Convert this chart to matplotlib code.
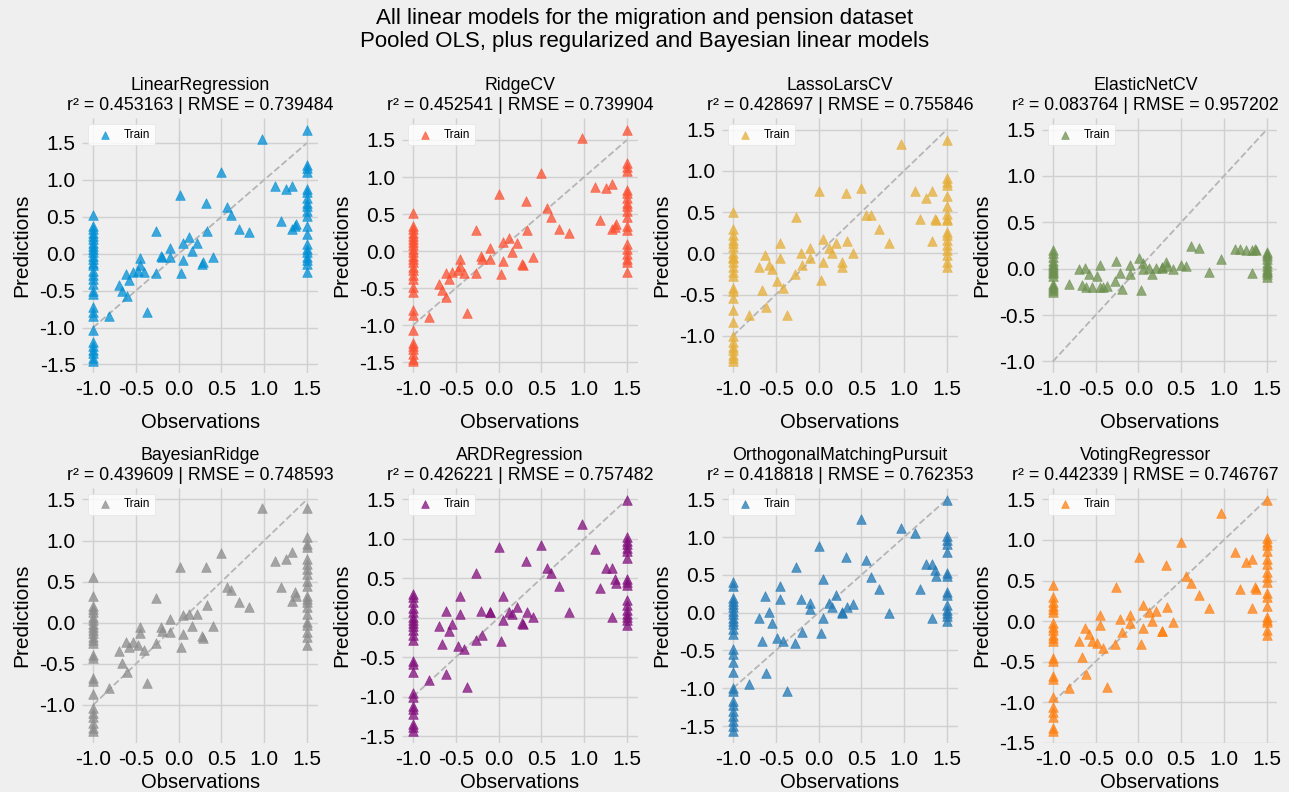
import numpy as np
import matplotlib.pyplot as plt
from matplotlib.ticker import MultipleLocator

plt.style.use('fivethirtyeight')
plt.rcParams['font.family'] = ['Liberation Sans', 'DejaVu Sans']

# shared observation values for the non-extreme rows
x_mid = [-0.81, -0.70, -0.66, -0.62, -0.61, -0.58, -0.54, -0.48, -0.45, -0.45, -0.41,
         -0.37, -0.27, -0.26, -0.21, -0.19, -0.10, -0.10, 0.01, 0.03, 0.05, 0.05,
         0.12, 0.16, 0.21, 0.27, 0.28, 0.32, 0.33, 0.40, 0.50, 0.56, 0.61, 0.71,
         0.82, 0.97, 1.13, 1.19, 1.26, 1.33, 1.33, 1.36, 1.37]
x_low = -1.0
x_high = 1.5

models = ['LinearRegression', 'RidgeCV', 'LassoLarsCV', 'ElasticNetCV',
          'BayesianRidge', 'ARDRegression', 'OrthogonalMatchingPursuit', 'VotingRegressor']
r2 = [0.453163, 0.452541, 0.428697, 0.083764, 0.439609, 0.426221, 0.418818, 0.442339]
rmse = [0.739484, 0.739904, 0.755846, 0.957202, 0.748593, 0.757482, 0.762353, 0.746767]
colors = ['#008fd5', '#fc4f30', '#e5ae38', '#6d904f', '#8b8b8b', '#810f7c', '#1f77b4', '#ff7f0e']

# predictions at the intermediate observations
pred_mid = {
    'LinearRegression': [-0.84, -0.43, -0.50, -0.28, -0.58, -0.36, -0.25, -0.23, -0.06, -0.16, -0.25,
                         -0.79, -0.26, 0.31, -0.03, -0.05, 0.08, -0.05, 0.79, -0.26, 0.15, -0.08,
                         0.22, 0.03, 0.14, -0.14, -0.11, 0.68, 0.31, -0.05, 1.11, 0.63, 0.52, 0.34,
                         0.29, 1.55, 0.91, 0.44, 0.87, 0.91, 0.33, 0.37, 0.40],
    'RidgeCV': [-0.89, -0.45, -0.52, -0.29, -0.62, -0.38, -0.28, -0.26, -0.10, -0.20, -0.30,
                -0.83, -0.30, 0.28, -0.06, -0.10, 0.04, -0.10, 0.77, -0.31, 0.12, -0.13,
                0.17, -0.01, 0.11, -0.18, -0.19, 0.68, 0.28, -0.08, 1.05, 0.58, 0.46, 0.30,
                0.24, 1.53, 0.86, 0.42, 0.85, 0.90, 0.30, 0.33, 0.37],
    'LassoLarsCV': [-0.75, -0.17, -0.44, -0.02, -0.65, -0.14, -0.19, -0.33, 0.12, -0.05, -0.42,
                    -0.75, -0.25, 0.44, 0.01, -0.14, 0.06, -0.05, 0.75, -0.32, 0.18, -0.10,
                    0.06, 0.00, 0.12, -0.16, -0.10, 0.73, 0.15, 0.01, 0.79, 0.46, 0.46, 0.30,
                    0.12, 1.32, 0.75, 0.42, 0.67, 0.75, 0.15, 0.42, 0.40],
    'ElasticNetCV': [-0.17, 0.00, -0.18, 0.01, -0.20, -0.06, -0.20, -0.08, 0.04, -0.20, -0.20,
                     -0.19, -0.13, 0.08, -0.05, -0.22, 0.04, -0.06, 0.12, -0.23, 0.06, 0.00,
                     0.01, -0.06, 0.01, 0.02, 0.01, 0.07, 0.03, 0.00, 0.04, 0.03, 0.24, 0.22,
                     -0.03, 0.11, 0.21, 0.21, 0.20, 0.20, -0.05, 0.21, 0.20],
    'BayesianRidge': [-0.79, -0.34, -0.49, -0.23, -0.60, -0.29, -0.23, -0.27, -0.05, -0.13, -0.33,
                      -0.73, -0.25, 0.30, -0.05, -0.10, 0.04, -0.11, 0.68, -0.30, 0.10, -0.14,
                      0.11, -0.04, 0.11, -0.16, -0.18, 0.68, 0.22, -0.04, 0.85, 0.44, 0.40, 0.25,
                      0.19, 1.40, 0.75, 0.44, 0.77, 0.86, 0.27, 0.37, 0.33],
    'ARDRegression': [-0.79, -0.11, -0.33, 0.08, -0.71, -0.17, -0.08, -0.36, 0.28, 0.05, -0.40,
                      -0.88, -0.28, 0.57, 0.08, -0.22, 0.07, 0.07, 0.90, -0.30, 0.27, -0.03,
                      0.07, 0.05, 0.14, -0.07, -0.08, 0.72, 0.07, 0.01, 0.92, 0.63, 0.57, 0.40,
                      0.07, 1.19, 0.87, 0.38, 0.63, 0.63, 0.01, 0.49, 0.44],
    'OrthogonalMatchingPursuit': [-0.95, -0.07, -0.38, 0.22, -0.80, 0.01, -0.13, -0.33, 0.36, 0.18, -0.37,
                                  -1.04, -0.40, 0.60, 0.18, -0.25, 0.13, 0.05, 0.89, -0.27, 0.44, -0.07,
                                  0.13, 0.08, 0.23, 0.00, 0.01, 0.74, 0.08, 0.11, 1.24, 0.70, 0.47, 0.31,
                                  0.00, 1.12, 1.05, 0.31, 0.65, 0.65, -0.07, 0.57, 0.48],
    'VotingRegressor': [-0.82, -0.25, -0.44, -0.09, -0.65, -0.16, -0.25, -0.27, 0.08, -0.05, -0.33,
                        -0.81, -0.28, 0.42, 0.02, -0.14, 0.07, -0.03, 0.79, -0.28, 0.20, -0.09,
                        0.11, 0.00, 0.13, -0.12, -0.12, 0.69, 0.17, -0.01, 0.97, 0.56, 0.47, 0.32,
                        0.16, 1.33, 0.85, 0.40, 0.73, 0.77, 0.16, 0.42, 0.40],
}

# predictions where observation == -1.0
pred_low = {
    'LinearRegression': [0.53, 0.37, 0.33, 0.28, 0.24, 0.20, 0.15, 0.11, 0.06, 0.02, -0.03, -0.07,
                         -0.12, -0.16, -0.23, -0.29, -0.34, -0.41, -0.50, -0.54, -0.72, -0.79,
                         -0.85, -1.03, -1.19, -1.25, -1.30, -1.34, -1.41, -1.46],
    'RidgeCV': [0.52, 0.34, 0.30, 0.25, 0.21, 0.16, 0.12, 0.08, 0.03, -0.01, -0.06, -0.10, -0.15,
                -0.21, -0.26, -0.32, -0.37, -0.48, -0.55, -0.79, -0.86, -1.06, -1.24, -1.28,
                -1.32, -1.39, -1.46, -1.49],
    'LassoLarsCV': [0.50, 0.30, 0.22, 0.16, 0.12, 0.08, 0.00, -0.04, -0.06, -0.10, -0.16, -0.22,
                    -0.28, -0.42, -0.46, -0.54, -0.69, -0.83, -1.00, -1.07, -1.13, -1.17, -1.23,
                    -1.27, -1.31],
    'ElasticNetCV': [0.20, 0.17, 0.13, 0.08, 0.05, 0.03, 0.01, -0.01, -0.03, -0.05, -0.08, -0.17,
                     -0.19, -0.21, -0.23, -0.25],
    'BayesianRidge': [0.56, 0.33, 0.21, 0.17, 0.13, 0.07, 0.03, -0.01, -0.05, -0.09, -0.13, -0.17,
                      -0.21, -0.25, -0.39, -0.43, -0.67, -0.71, -0.87, -1.04, -1.10, -1.14, -1.22,
                      -1.28, -1.32],
    'ARDRegression': [0.30, 0.26, 0.20, 0.12, 0.07, 0.01, -0.03, -0.07, -0.11, -0.15, -0.22, -0.28,
                      -0.55, -0.59, -0.69, -0.96, -1.00, -1.12, -1.16, -1.22, -1.35, -1.39, -1.44],
    'OrthogonalMatchingPursuit': [0.41, 0.35, 0.20, 0.15, 0.11, 0.07, 0.02, -0.02, -0.07, -0.11, -0.15,
                                  -0.22, -0.28, -0.48, -0.54, -0.65, -0.78, -1.00, -1.04, -1.17,
                                  -1.22, -1.30, -1.37, -1.43, -1.50, -1.57],
    'VotingRegressor': [0.44, 0.30, 0.23, 0.19, 0.15, 0.11, -0.03, -0.07, -0.11, -0.17, -0.21, -0.25,
                        -0.45, -0.49, -0.68, -0.72, -0.94, -1.06, -1.12, -1.18, -1.32, -1.36],
}

# predictions where observation == 1.5
pred_high = {
    'LinearRegression': [1.68, 1.20, 1.16, 1.11, 0.87, 0.84, 0.75, 0.69, 0.64, 0.58, 0.51, 0.37,
                         0.26, 0.13, 0.06, 0.02, -0.05, -0.09, -0.14, -0.25],
    'RidgeCV': [1.64, 1.19, 1.14, 1.08, 0.83, 0.79, 0.72, 0.65, 0.61, 0.54, 0.46, 0.34, 0.28,
                0.10, 0.03, -0.04, -0.10, -0.15, -0.28],
    'LassoLarsCV': [1.38, 0.91, 0.87, 0.83, 0.69, 0.58, 0.48, 0.42, 0.40, 0.26, 0.22, 0.16, 0.10,
                    0.04, -0.02, -0.10, -0.16],
    'ElasticNetCV': [0.18, 0.16, 0.14, 0.11, 0.06, 0.03, 0.00, -0.02, -0.04, -0.06, -0.09],
    'BayesianRidge': [1.40, 1.04, 0.96, 0.92, 0.77, 0.71, 0.65, 0.59, 0.51, 0.45, 0.33, 0.29, 0.25,
                      0.19, 0.11, 0.01, -0.03, -0.11, -0.17, -0.27],
    'ARDRegression': [1.49, 1.03, 0.97, 0.93, 0.89, 0.84, 0.76, 0.49, 0.45, 0.41, 0.22, 0.16, 0.10,
                      0.05, 0.01, -0.03, -0.09],
    'OrthogonalMatchingPursuit': [1.49, 1.02, 0.96, 0.91, 0.80, 0.52, 0.49, 0.27, 0.23, 0.10, 0.04,
                                  0.00, -0.04, -0.11],
    'VotingRegressor': [1.49, 1.02, 0.98, 0.94, 0.86, 0.76, 0.70, 0.60, 0.54, 0.48, 0.34, 0.30, 0.19,
                        0.05, 0.01, -0.01, -0.11, -0.17],
}

fig, axes = plt.subplots(2, 4, figsize=(12.89, 7.92), dpi=100)
fig.patch.set_facecolor('#f0eff0')
fig.subplots_adjust(left=0.064, right=0.991, top=0.851, bottom=0.062, wspace=0.36, hspace=0.45)

for k, (ax, name) in enumerate(zip(axes.flat, models)):
    ys = pred_low[name] + pred_mid[name] + pred_high[name]
    xs = [x_low] * len(pred_low[name]) + x_mid + [x_high] * len(pred_high[name])
    ax.set_facecolor('#f0eff0')
    ax.scatter(xs, ys, marker='^', s=48, color=colors[k], alpha=0.75, label='Train', zorder=3)
    ax.plot([x_low, x_high], [x_low, x_high], ls='--', color='#b5b5b5', lw=1.3, zorder=2)
    # last column: shift title left so it stays inside the figure
    tx = 0.44 if k % 4 == 3 else 0.5
    ax.set_title(f'{name}\nr\u00b2 = {r2[k]:.6f} | RMSE = {rmse[k]:.6f}', fontsize=12.8, pad=6, x=tx)
    ax.set_xticks([-1.0, -0.5, 0.0, 0.5, 1.0, 1.5])
    ax.set_xticklabels(['-1.0', '-0.5', '0.0', '0.5', '1.0', '1.5'])
    ax.yaxis.set_major_locator(MultipleLocator(0.5))
    ax.yaxis.set_major_formatter(plt.FuncFormatter(lambda v, p: f'{v:.1f}'.replace('\u2212', '-')))
    ax.tick_params(labelsize=15, length=0, pad=5, labelcolor='black')
    ax.set_xlabel('Observations', fontsize=14.5, labelpad=10 if k < 4 else 3, color='black')
    ax.set_ylabel('Predictions', fontsize=15, labelpad=6, color='black')
    ax.grid(True, color='#d0d0d0', lw=1)
    for s in ax.spines.values():
        s.set_visible(False)
    leg = ax.legend(loc='upper left', fontsize=8.5, frameon=True, handletextpad=0.6,
                    borderpad=0.4, markerscale=0.8)
    leg.get_frame().set_facecolor('white')
    leg.get_frame().set_edgecolor('#e0e0e0')

fig.suptitle('All linear models for the migration and pension dataset\n'
             'Pooled OLS, plus regularized and Bayesian linear models',
             fontsize=16, y=0.99, linespacing=1.15)

fig.savefig('out.png', dpi=100, facecolor=fig.get_facecolor())
